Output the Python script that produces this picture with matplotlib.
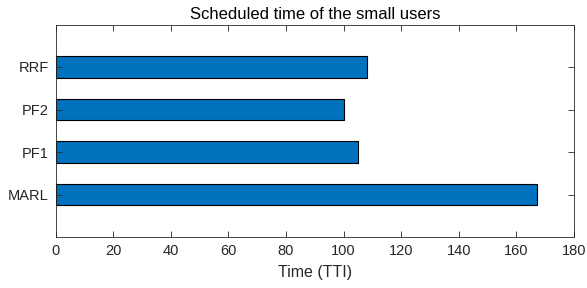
import matplotlib
matplotlib.use("Agg")
import matplotlib.pyplot as plt

plt.rcParams['font.family'] = ['Liberation Sans', 'DejaVu Sans']

labels = ["MARL", "PF1", "PF2", "RRF"]
times = [167, 105, 100, 108]

fig = plt.figure(figsize=(5.87, 2.88), dpi=100)
ax = fig.add_axes([55.5 / 587, 1 - 237 / 288, (574 - 55.5) / 587, (237 - 24.5) / 288])

pos = list(range(1, len(labels) + 1))
ax.barh(pos, times, height=0.5, color='#0072BD', edgecolor='black', linewidth=0.8)

ax.set_xlim(0, 180)
ax.set_ylim(0, 5)
ax.set_xticks(range(0, 181, 20))
ax.set_yticks(pos)
ax.set_yticklabels(labels)
ax.tick_params(direction='in', top=True, right=True, length=4, width=0.6,
               colors='#262626', labelsize=10.5, labelcolor='#262626', pad=5)
for s in ax.spines.values():
    s.set_color('#262626')
    s.set_linewidth(0.6)

ax.set_xlabel("Time (TTI)", fontsize=11.5, color='#262626', labelpad=5)
ax.set_title("Scheduled time of the small users", fontsize=12, color='black', pad=4)

fig.savefig("out.png", dpi=100)
